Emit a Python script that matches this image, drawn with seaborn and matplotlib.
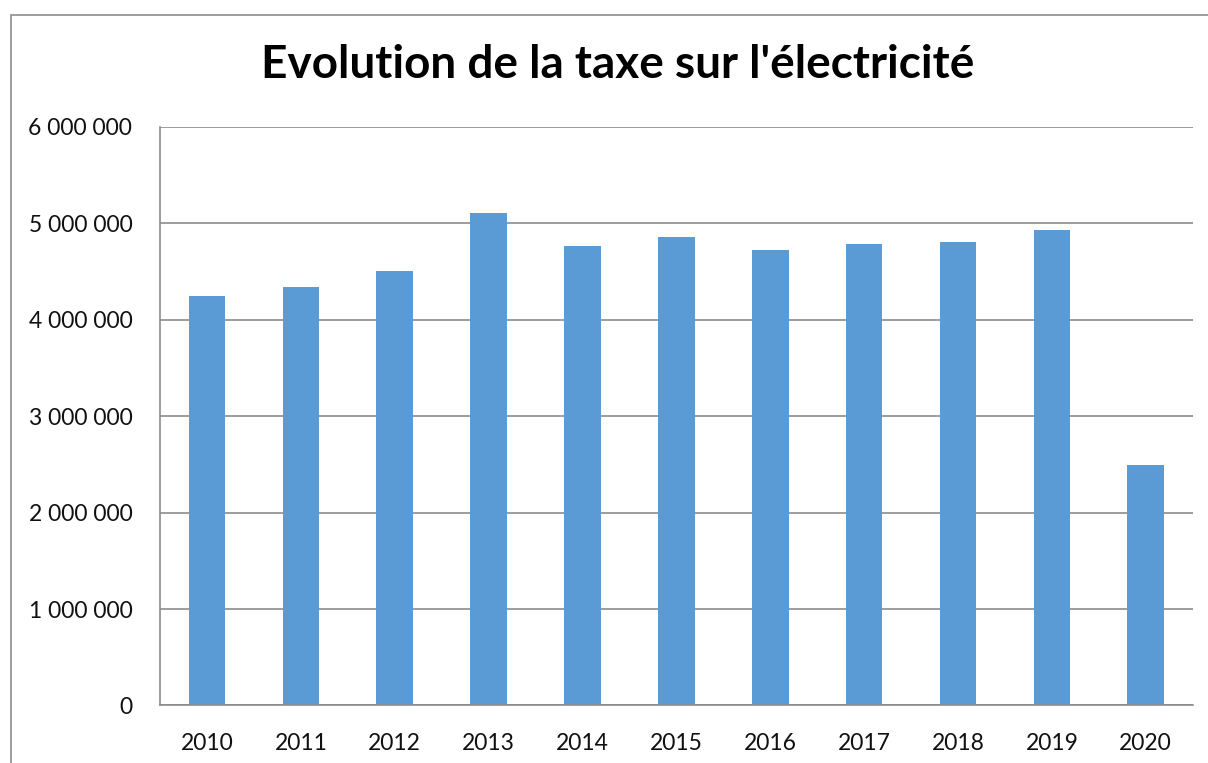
import numpy as np
import pandas as pd
import matplotlib
matplotlib.use("Agg")
import matplotlib.pyplot as plt
from matplotlib.patches import Rectangle
from matplotlib.ticker import FuncFormatter
import seaborn as sns

years = ["2010", "2011", "2012", "2013", "2014", "2015",
         "2016", "2017", "2018", "2019", "2020"]
taxe = [4246000, 4339000, 4505000, 5107000, 4765000, 4858000,
        4723000, 4785000, 4806000, 4931000, 2494000]
y_ticks = [0, 1000000, 2000000, 3000000, 4000000, 5000000, 6000000]

sns.set_style("white")
plt.rcParams["font.family"] = ["Lato", "DejaVu Sans"]

df = pd.DataFrame({"annee": years, "taxe": taxe})

fig = plt.figure(figsize=(12.08, 7.63), dpi=100)
ax = fig.add_axes([0.1325, 0.0754, 0.8548, 0.7583])

sns.barplot(data=df, x="annee", y="taxe", color="#5B9BD5", saturation=1,
            width=0.39, linewidth=0, ax=ax)

ax.set_ylim(0, 6000000)
ax.set_yticks(y_ticks)
ax.yaxis.set_major_formatter(FuncFormatter(lambda v, p: f"{int(v):,}".replace(",", " ")))
ax.set_xlim(-0.5, len(years) - 0.5)
ax.grid(axis="y", color="#8c8c8c", linewidth=1.2)
ax.set_axisbelow(True)
ax.set_xlabel("")
ax.set_ylabel("")
ax.tick_params(axis="both", length=0, labelsize=16.5, colors="#111111")
ax.tick_params(axis="y", pad=20)
ax.tick_params(axis="x", pad=20)
for side in ["top", "right"]:
    ax.spines[side].set_visible(False)
for side in ["left", "bottom"]:
    ax.spines[side].set_color("#8c8c8c")
    ax.spines[side].set_linewidth(1.2)

fig.text(0.511, 0.915, "Evolution de la taxe sur l'électricité", ha="center", va="center",
         fontsize=33, fontweight="bold", color="black")

# outer chart border (only top and left visible)
fig.patches.append(Rectangle((11 / 1208, -0.1), 1.2, 1.1 - 15 / 763, transform=fig.transFigure,
                             fill=False, edgecolor="#8c8c8c", linewidth=1.2))

fig.savefig("out.png", dpi=100)
